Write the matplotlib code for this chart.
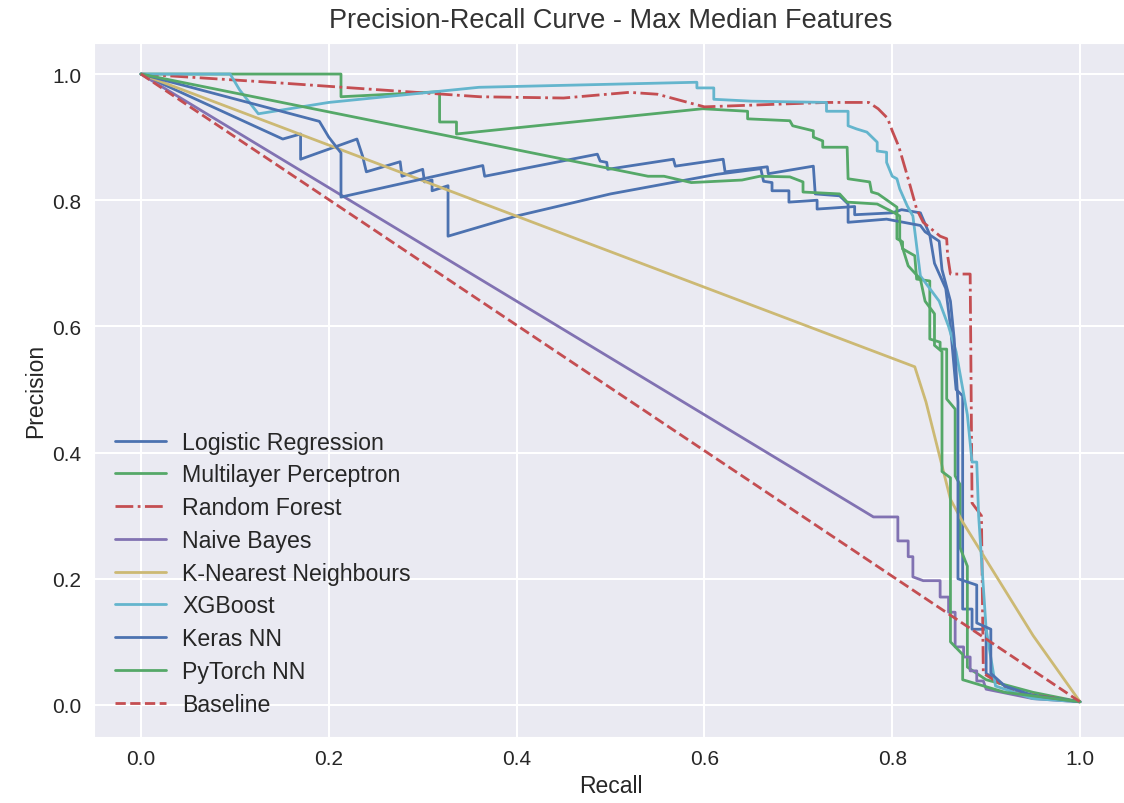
import matplotlib
matplotlib.use("Agg")
import matplotlib.pyplot as plt
import seaborn as sns

sns.set_style("darkgrid")
plt.rcParams['font.family'] = ['Liberation Sans', 'DejaVu Sans']

# Logistic Regression
lr_recall = [0, 0.151, 0.17, 0.17, 0.23, 0.236, 0.24, 0.276, 0.278, 0.3, 0.302, 0.31, 0.31, 0.327, 0.327,
             0.4, 0.5, 0.613, 0.66, 0.663, 0.672, 0.672, 0.69, 0.69, 0.72, 0.72, 0.76, 0.76, 0.8, 0.81, 0.83,
             0.84, 0.845, 0.857, 0.862, 0.868, 0.875, 0.875, 0.885, 0.885, 0.9, 0.9, 0.93, 1.0]
lr_precision = [1, 0.897, 0.905, 0.865, 0.897, 0.87, 0.845, 0.861, 0.838, 0.849, 0.829, 0.832, 0.815, 0.823, 0.743,
                0.775, 0.81, 0.841, 0.85, 0.83, 0.828, 0.815, 0.815, 0.797, 0.8, 0.786, 0.79, 0.777, 0.78, 0.785, 0.78,
                0.745, 0.7, 0.66, 0.6, 0.5, 0.49, 0.152, 0.152, 0.12, 0.12, 0.05, 0.02, 0.005]

# Multilayer Perceptron
mlp_recall = [0, 0.213, 0.213, 0.318, 0.318, 0.336, 0.336, 0.598, 0.646, 0.646, 0.691, 0.694, 0.716, 0.716,
              0.726, 0.726, 0.752, 0.753, 0.776, 0.778, 0.785, 0.805, 0.805, 0.811, 0.811, 0.824, 0.826, 0.84,
              0.84, 0.851, 0.851, 0.858, 0.858, 0.867, 0.867, 0.872, 0.872, 0.88, 0.88, 0.9, 0.95, 1.0]
mlp_precision = [1, 1.0, 0.964, 0.972, 0.924, 0.924, 0.905, 0.945, 0.941, 0.929, 0.926, 0.918, 0.91, 0.9,
                 0.894, 0.884, 0.884, 0.834, 0.829, 0.813, 0.81, 0.789, 0.739, 0.734, 0.723, 0.712, 0.675, 0.672,
                 0.58, 0.575, 0.564, 0.564, 0.485, 0.469, 0.363, 0.35, 0.25, 0.22, 0.06, 0.04, 0.02, 0.005]

# Random Forest
rf_recall = [0, 0.137, 0.361, 0.45, 0.52, 0.55, 0.575, 0.6, 0.73, 0.775, 0.785, 0.795, 0.8, 0.807, 0.817,
             0.826, 0.833, 0.851, 0.858, 0.859, 0.862, 0.883, 0.885, 0.895, 0.897, 0.93, 1.0]
rf_precision = [1, 0.987, 0.964, 0.962, 0.971, 0.968, 0.958, 0.948, 0.955, 0.955, 0.945, 0.93, 0.91, 0.885, 0.834,
                0.786, 0.765, 0.743, 0.739, 0.712, 0.683, 0.683, 0.32, 0.3, 0.05, 0.02, 0.005]

# Naive Bayes
nb_recall = [0, 0.78, 0.806, 0.806, 0.817, 0.817, 0.822, 0.822, 0.833, 0.851, 0.851, 0.86, 0.86, 0.867, 0.867,
             0.876, 0.876, 0.883, 0.883, 0.89, 0.89, 0.897, 0.9, 0.95, 1.0]
nb_precision = [1, 0.298, 0.298, 0.26, 0.26, 0.235, 0.235, 0.203, 0.197, 0.197, 0.171, 0.171, 0.147, 0.147, 0.092,
                0.092, 0.076, 0.076, 0.054, 0.054, 0.038, 0.038, 0.025, 0.01, 0.005]

# K-Nearest Neighbours
knn_recall = [0, 0.824, 0.836, 0.862, 0.875, 0.9, 0.95, 1.0]
knn_precision = [1, 0.536, 0.48, 0.326, 0.29, 0.23, 0.11, 0.005]

# XGBoost
xgb_recall = [0, 0.095, 0.105, 0.125, 0.2, 0.36, 0.592, 0.592, 0.61, 0.61, 0.65, 0.73, 0.73, 0.753, 0.753,
              0.762, 0.773, 0.784, 0.784, 0.794, 0.794, 0.8, 0.805, 0.808, 0.816, 0.822, 0.83, 0.85, 0.86, 0.868,
              0.88, 0.885, 0.89, 0.892, 0.9, 0.91, 0.95, 1.0]
xgb_precision = [1, 1.0, 0.975, 0.937, 0.955, 0.979, 0.987, 0.978, 0.978, 0.96, 0.957, 0.955, 0.941, 0.941, 0.918,
                 0.913, 0.908, 0.892, 0.878, 0.876, 0.86, 0.838, 0.834, 0.818, 0.791, 0.775, 0.68, 0.64, 0.6, 0.56,
                 0.46, 0.385, 0.385, 0.3, 0.12, 0.03, 0.01, 0.005]

# Keras NN
keras_recall = [0, 0.19, 0.2, 0.213, 0.213, 0.364, 0.366, 0.486, 0.489, 0.496, 0.497, 0.567, 0.569, 0.62, 0.622,
                0.667, 0.668, 0.716, 0.718, 0.744, 0.753, 0.753, 0.794, 0.83, 0.835, 0.85, 0.853, 0.862, 0.866,
                0.87, 0.87, 0.89, 0.89, 0.905, 0.905, 0.92, 0.95, 1.0]
keras_precision = [1, 0.925, 0.9, 0.875, 0.805, 0.855, 0.838, 0.873, 0.862, 0.86, 0.849, 0.865, 0.854, 0.865, 0.845,
                   0.853, 0.842, 0.854, 0.81, 0.807, 0.794, 0.765, 0.77, 0.76, 0.75, 0.735, 0.69, 0.64, 0.58,
                   0.48, 0.2, 0.19, 0.13, 0.12, 0.05, 0.03, 0.015, 0.005]

# PyTorch NN
torch_recall = [0, 0.54, 0.557, 0.586, 0.64, 0.659, 0.691, 0.705, 0.705, 0.744, 0.752, 0.784, 0.801, 0.808,
                0.808, 0.817, 0.83, 0.835, 0.845, 0.845, 0.853, 0.853, 0.862, 0.862, 0.875, 0.875, 0.92, 1.0]
torch_precision = [1, 0.838, 0.838, 0.828, 0.832, 0.838, 0.837, 0.829, 0.813, 0.81, 0.797, 0.794, 0.781, 0.775,
                   0.739, 0.696, 0.675, 0.64, 0.62, 0.57, 0.56, 0.37, 0.36, 0.1, 0.08, 0.04, 0.02, 0.005]

# Baseline
base_recall = [0, 1]
base_precision = [1, 0.005]

fig = plt.figure(figsize=(11.24, 8.04), dpi=100)
ax = fig.add_axes([94 / 1124, 66.5 / 804, 1033 / 1124, 694 / 804])

lw = 2.0
ax.plot(lr_recall, lr_precision, color='#4C72B0', lw=lw, label='Logistic Regression')
ax.plot(mlp_recall, mlp_precision, color='#55A868', lw=lw, label='Multilayer Perceptron')
ax.plot(rf_recall, rf_precision, color='#C44E52', lw=lw, ls='-.', label='Random Forest')
ax.plot(nb_recall, nb_precision, color='#8172B2', lw=lw, label='Naive Bayes')
ax.plot(knn_recall, knn_precision, color='#CCB974', lw=lw, label='K-Nearest Neighbours')
ax.plot(xgb_recall, xgb_precision, color='#64B5CD', lw=lw, label='XGBoost')
ax.plot(keras_recall, keras_precision, color='#4C72B0', lw=lw, label='Keras NN')
ax.plot(torch_recall, torch_precision, color='#55A868', lw=lw, label='PyTorch NN')
ax.plot(base_recall, base_precision, color='#C44E52', lw=lw, ls='--', label='Baseline')

ax.set_xlim(-0.05, 1.05)
ax.set_ylim(-0.05, 1.05)
ax.grid(True, color='white', lw=1.5)
ax.tick_params(labelsize=15, colors='#262626', length=0, pad=9)
ax.set_xlabel('Recall', fontsize=16.5, color='#262626')
ax.set_ylabel('Precision', fontsize=16.5, color='#262626')
ax.set_title('Precision-Recall Curve - Max Median Features', fontsize=19.5, color='#333333', pad=11)
ax.legend(loc='lower left', frameon=False, fontsize=16.7, handlelength=2.2, labelspacing=0.42,
          handletextpad=0.7)

fig.savefig('out.png', dpi=100)
